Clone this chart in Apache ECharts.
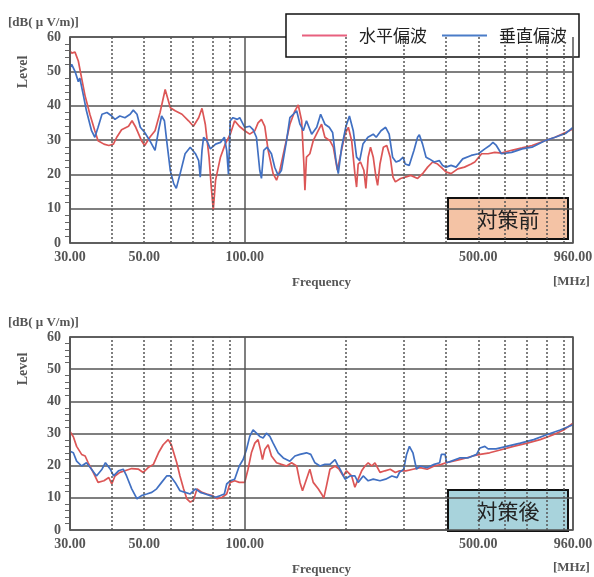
<!DOCTYPE html>
<html>
<head>
<meta charset="utf-8">
<script src="https://cdn.jsdelivr.net/npm/echarts@6/dist/echarts.min.js"></script>
<style>
  html, body { margin: 0; padding: 0; background: #fff; }
  #chart { width: 594px; height: 577px; }
</style>
</head>
<body>
<div id="chart"></div>
<script>
// 対策前 水平偏波
const beforeFreqH = [30, 30.35, 31.05, 31.77, 32.5, 33.26, 34.4, 35.6, 36.4, 37.9, 39.2, 40.46, 41.4, 42.8, 44.9, 46.0, 47.2, 49.1, 50.2, 52.0, 53.9, 55.8, 57.8, 59.9, 61.9, 64.9, 67.9, 70.2, 72.8, 74.5, 76.2, 78.2, 79.4, 80.5, 81.8, 84.6, 87.4, 90.5, 93.3, 96.3,
  100, 103.5, 107.2, 109.6, 112.2, 114.8, 117.5, 121.6, 124.5, 127.4, 131.8, 136.5, 141.3, 144.6, 148, 150.3, 151.4, 153, 156.6, 160.3, 165.9, 169.8, 173.7, 179.9, 184.1, 189.3, 192.9, 199.5,
  204.2, 208.9, 213.6, 216.1, 218.5, 222, 227.2, 230.4, 234.1, 237.9, 242.4, 247, 249.8, 253.9, 259.9, 266.1, 272.5, 277.7, 282.3, 292.6,
  302, 314, 329, 340.5, 352.6, 365, 377.7, 386.7, 400, 414.4, 434, 454.5, 476, 488, 511.5, 535, 560, 586, 629, 676, 723.8, 791, 848.5, 911.7, 960];
const beforeLevelH = [56, 55.3, 55.6, 53, 48, 43, 37.5, 32.7, 29.8, 28.8, 28.4, 28.8, 30.8, 33, 34, 35.6, 33.7, 29.8, 28.4, 30.8, 32.7, 38, 44.7, 39.4, 38.5, 37.5, 35.6, 34, 36.5, 39.2, 34.6, 25, 16.3, 9.6, 18.3, 25, 28.8, 31.7, 35.6, 34,
  32.7, 31.7, 32.7, 35, 36, 34, 27, 20.2, 18.3, 21.2, 27.9, 34.6, 38.5, 40.2, 35.6, 23, 15.4, 25, 26, 29.8, 32.7, 34.6, 30.8, 29.8, 27.9, 21.2, 25, 31.7,
  33.7, 29.8, 20.2, 16.3, 23, 23.6, 21.2, 15.9, 25, 27.9, 25, 19.2, 16.8, 23, 27.9, 28.4, 25, 19.2, 17.8, 18.8,
  19.2, 19.7, 18.8, 20.2, 22.1, 23.6, 23, 22.1, 20.7, 20.2, 21.6, 22.1, 23, 23.6, 26, 26, 26.4, 26.2, 27, 27.7, 28.4, 29.8, 30.8, 32.2, 33.2];

// 対策前 垂直偏波
const beforeFreqV = [30, 30.35, 31.05, 31.77, 32.1, 32.9, 33.6, 34.8, 35.6, 36.4, 37.4, 38.7, 40, 40.9, 42.3, 43.8, 45.4, 46.4, 47.6, 48.7, 50.2, 52, 53.9, 55.2, 56.4, 57.5, 58.4, 59.9, 61.3, 62.4, 64, 66.3, 68.7, 71.2, 72.8, 73.6, 74.5, 75.3, 77, 78.9, 81.8, 84.6, 86.9, 88.3, 89.4, 90.5, 92.2, 95,
  96.6, 100, 103.5, 105.9, 108.4, 110.9, 112.2, 114, 116.7, 120.2, 123, 125.9, 128.8, 133.4, 136.5, 139.7, 143, 146.3, 149.7, 153, 158.6, 164.2, 168.7, 173.7, 179, 183.2, 187.5, 190.5, 195, 200.9, 205.7, 211.2, 216.1, 220.8, 225.8, 233.6, 242.4, 247.4, 255.7, 264, 270.5, 277, 283.5, 290.5, 298,
  302, 310.5, 321, 329, 333, 340.5, 348.8, 356.7, 369, 382, 391, 400, 414.4, 429, 449, 476, 500, 523, 541, 553, 566, 586, 629, 676, 723.8, 791, 848.5, 911.7, 960];
const beforeLevelV = [51, 52, 50, 47, 48, 43, 38.5, 32.7, 30.8, 33.7, 37.5, 38, 37, 36, 37, 36.5, 37.5, 38.7, 37.5, 33.7, 32.2, 29.8, 27, 32.7, 37, 35.6, 29.8, 21, 17.3, 15.9, 20, 26, 27.9, 26, 24, 19.2, 27, 30.8, 29.8, 27.4, 28.8, 29.3, 30.8, 27, 20, 35.6, 36.5, 36,
  36.5, 33.7, 34, 33, 30.8, 21.2, 18.8, 27, 27.9, 26, 22, 19.7, 21.2, 29.8, 36.5, 37.5, 38.5, 34.6, 32.7, 35.6, 31.7, 33.7, 37.5, 34.6, 33.7, 32.2, 24, 20.2, 27.9, 34, 37, 32.7, 25, 24, 28.8, 30.8, 31.7, 30.8, 32.7, 33.7, 31.7, 25, 23.6, 24, 25,
  23, 22.6, 27, 30.8, 31.5, 28.8, 25, 24.5, 23.6, 24, 22.6, 22.1, 22.6, 22.1, 24.5, 25.5, 26, 27.4, 28.4, 29.3, 28.4, 26, 26.4, 27.4, 27.9, 29.8, 30.8, 31.9, 33.7];

// 対策後 水平偏波
const afterFreqH = [30, 30.7, 31.4, 32.5, 33.3, 34.0, 35.2, 36.4, 37.9, 39.2, 40, 40.9, 42.3, 43.8, 45.9, 48.1, 49.7, 51.4, 53.3, 55.2, 57, 59, 60.3, 62.6, 64, 65.6, 67.1, 68.7, 70.2, 72, 74.5, 77, 80, 82.7, 85.6, 88.3, 90.5, 93.3, 96.3,
  100, 102.3, 104.7, 107.2, 109.6, 111.4, 113, 114.8, 117.5, 120.2, 124.5, 128.8, 133.4, 138.1, 143, 146.3, 148.9, 153, 156.6, 160.3, 165.9, 169.8, 172.4, 175.7, 179.9, 186.3, 191.6, 197.2,
  201.6, 208.9, 213.6, 218.5, 223.8, 229, 234.1, 239.7, 245.3, 253.9, 262.8, 272.5, 282.3, 290.5,
  303.5, 318.6, 334.7, 351.5, 369, 387.6, 400, 420, 439.5, 460, 481.4, 505.7, 540.6, 577.5, 637, 700, 765.5, 838.6, 900, 960];
const afterLevelH = [30.6, 29, 26, 23.5, 23, 20.9, 17.9, 14.8, 15.3, 16.3, 14.3, 16.8, 17.9, 18.4, 19.1, 18.9, 17.9, 19.4, 20.4, 24, 26.5, 28.1, 26.5, 20.9, 16.8, 12.8, 9.7, 8.7, 9.2, 12.8, 11.7, 11.2, 10.7, 9.7, 10.2, 11.2, 14.8, 15.3, 14.8,
  14.8, 18.9, 24, 27, 28.1, 25, 21.9, 25, 26.5, 23, 20.9, 20.4, 19.9, 20.9, 19.9, 14.8, 12.2, 15.8, 18.9, 14.8, 12.8, 11.2, 9.9, 13.8, 18.9, 19.9, 18.9, 16.8,
  18.4, 16.8, 13.3, 15.8, 18.4, 19.9, 20.9, 19.9, 20.9, 17.9, 18.4, 18.9, 17.9, 18.4,
  18.4, 18.9, 19.4, 18.9, 19.9, 20.4, 20.9, 21.4, 21.9, 22.4, 23, 23.5, 24, 24.8, 26, 27, 28.1, 29.6, 31.1, 33.2];

// 対策後 垂直偏波
const afterFreqV = [30, 30.7, 31.4, 32.5, 33.6, 34.8, 36, 37.4, 38.3, 39.6, 40.5, 41.9, 43.3, 44.3, 45.9, 47.6, 49.1, 50.9, 52.7, 54.5, 56.4, 58.4, 59.9, 61.9, 64, 66.3, 68.7, 71.2, 73.6, 76.2, 78.9, 81.8, 84.6, 86.9, 88.3, 90.5, 93.3, 96.3,
  99, 101.2, 103.5, 105.9, 108.4, 110.9, 113.5, 116.1, 118.9, 121.6, 125.9, 130.4, 136.5, 141.3, 146.3, 153, 157.6, 162.2, 167.9, 173.7, 179.9, 186.3, 189.3, 192.9, 199.5,
  206.5, 213.6, 218.5, 226.2, 234.1, 242.4, 253.9, 264, 275.6, 285.6, 290.5, 299,
  305, 311, 318.6, 326.6, 334.7, 351.5, 369, 383, 387.6, 392.3, 397.8, 401.8, 415.5, 439.5, 465, 494, 505.7, 523, 534.7, 565, 607, 668, 732, 800, 879, 960];
const afterLevelV = [24.5, 24, 21.4, 19.9, 20.9, 18.9, 16.8, 18.9, 20.9, 18.9, 16.8, 18.4, 18.9, 16.8, 12.8, 9.7, 10.7, 11.2, 11.7, 12.8, 14.8, 16.8, 16.8, 14.8, 12.2, 11.7, 11.2, 12.8, 11.7, 11.2, 10.7, 10.2, 10.7, 11.2, 14.3, 15.3, 15.8, 19.9,
  22, 25, 29.1, 31.1, 30.1, 29.1, 28.6, 30.1, 29.1, 27, 24, 22.4, 21.4, 23, 23.5, 24, 23.5, 20.9, 19.9, 20.4, 20.4, 21.9, 20.4, 18.9, 15.8,
  16.8, 16.8, 14.8, 16.8, 15.3, 15.8, 15.3, 15.8, 16.8, 16.3, 17.9, 18.9,
  23.5, 26, 24, 18.9, 19.9, 19.4, 20.4, 20.9, 23.5, 24, 23.5, 20.9, 21.4, 22.4, 22.4, 23.5, 25.5, 26, 25.2, 25.2, 26, 27, 28.1, 29.6, 31.1, 32.7];

// 目盛り
const gridFreqs = [30, 40, 50, 60, 70, 80, 90, 100, 200, 300, 400, 500, 600, 700, 800, 900, 960];
const solidFreqs = [30, 100, 960];
const labelFreqs = [30, 50, 100, 500, 960];
const labelTexts = ['30.00', '50.00', '100.00', '500.00', '960.00'];
const seriesNames = ['水平偏波', '垂直偏波'];

const RED = '#dc5656';
const BLUE = '#4170c2';
const GRIDC = '#555';
const serif = 'Liberation Serif';

function zip(a, b) {
  return a.map((f, i) => [f, b[i]]);
}

// 縦の補助線（markLine）
function vLines() {
  return gridFreqs.map(f => {
    const i = labelFreqs.indexOf(f);
    return {
      xAxis: f,
      lineStyle: { type: solidFreqs.indexOf(f) >= 0 ? 'solid' : [2, 2] },
      label: { show: i >= 0, formatter: i >= 0 ? labelTexts[i] : '' }
    };
  });
}

function axesFor(idx) {
  const x = {
    type: 'log', logBase: 10, gridIndex: idx, min: 30, max: 960,
    name: 'Frequency', nameLocation: 'middle', nameGap: 33,
    nameTextStyle: { fontFamily: serif, fontWeight: 'bold', fontSize: 13, color: '#555' },
    axisLine: { show: false }, axisTick: { show: false },
    axisLabel: { show: false }, splitLine: { show: false }, minorSplitLine: { show: false }
  };
  const y = {
    type: 'value', gridIndex: idx, min: 0, max: 60, interval: 10,
    axisLine: { show: true, lineStyle: { color: GRIDC, width: 1.5 } },
    axisTick: { show: false },
    minorTick: { show: true, splitNumber: 5, length: 5, lineStyle: { color: '#666' } },
    axisLabel: { fontFamily: serif, fontWeight: 'bold', fontSize: 14, color: '#555', margin: 9 },
    splitLine: { show: true, lineStyle: { color: GRIDC, width: 1.5 } }
  };
  return [x, y];
}

const ax0 = axesFor(0), ax1 = axesFor(1);

function gridSeries(idx) {
  return {
    name: 'grid' + idx, type: 'line', xAxisIndex: idx, yAxisIndex: idx, data: [], z: 1,
    markLine: {
      silent: true, symbol: ['none', 'none'], animation: false,
      lineStyle: { color: GRIDC, width: 1.5 },
      label: { position: 'start', distance: 7, fontFamily: serif, fontWeight: 'bold', fontSize: 14, color: '#555' },
      emphasis: { disabled: true },
      data: vLines()
    }
  };
}

function dataSeries(name, idx, freqs, levels, color) {
  return {
    name: name, type: 'line', xAxisIndex: idx, yAxisIndex: idx, z: 3,
    showSymbol: false, symbol: 'none', animation: false,
    lineStyle: { color: color, width: 1.7 }, itemStyle: { color: color },
    data: zip(freqs, levels)
  };
}

function labelBox(x, y, text, fill) {
  return {
    type: 'group', left: x, top: y, z: 100,
    children: [
      { type: 'rect', shape: { x: 0, y: 0, width: 120, height: 41 }, style: { fill: fill, stroke: '#111', lineWidth: 2 } },
      { type: 'text', x: 60, y: 21, style: { text: text, fill: '#222', font: '21px "Noto Sans CJK JP"', textAlign: 'center', textVerticalAlign: 'middle' } }
    ]
  };
}

// 軸まわりの文字（上段・下段）
function sideTexts(dyName, dyLevel, dyUnit) {
  return [
    { type: 'text', left: 8, top: 16 + dyName, style: { text: '[dB( μ V/m)]', fill: '#555', font: 'bold 13px "Liberation Serif"' } },
    { type: 'text', x: 23, y: 72 + dyLevel, rotation: Math.PI / 2, style: { text: 'Level', fill: '#555', font: 'bold 14px "Liberation Serif"', textAlign: 'center', textVerticalAlign: 'middle' } },
    { type: 'text', left: 553, top: 275 + dyUnit, style: { text: '[MHz]', fill: '#555', font: 'bold 13px "Liberation Serif"' } }
  ];
}

const chart = echarts.init(document.getElementById('chart'));
chart.setOption({
  backgroundColor: '#fff',
  animation: false,
  legend: {
    left: 286, top: 14,
    padding: [13, 12, 13, 16],
    itemWidth: 45, itemHeight: 14, itemGap: 15,
    borderColor: '#111', borderWidth: 1.5, backgroundColor: '#fff',
    textStyle: { fontFamily: 'Noto Sans CJK JP', fontSize: 17, color: '#222', padding: [0, 0, 0, 7] },
    data: [
      { name: seriesNames[0], icon: 'path://M0,6 L45,6 L45,8 L0,8 Z', itemStyle: { color: '#e8607e' } },
      { name: seriesNames[1], icon: 'path://M0,6 L45,6 L45,8 L0,8 Z', itemStyle: { color: '#4a7cc8' } }
    ]
  },
  grid: [
    { left: 70, right: 21, top: 37, height: 206, show: true, borderColor: GRIDC, borderWidth: 1.5 },
    { left: 70, right: 21, top: 337, height: 196, show: true, borderColor: GRIDC, borderWidth: 1.5 }
  ],
  xAxis: [ax0[0], ax1[0]],
  yAxis: [ax0[1], ax1[1]],
  series: [
    gridSeries(0),
    gridSeries(1),
    dataSeries(seriesNames[0], 0, beforeFreqH, beforeLevelH, RED),
    dataSeries(seriesNames[1], 0, beforeFreqV, beforeLevelV, BLUE),
    dataSeries(seriesNames[0], 1, afterFreqH, afterLevelH, RED),
    dataSeries(seriesNames[1], 1, afterFreqV, afterLevelV, BLUE)
  ],
  graphic: sideTexts(0, 0, 0).concat(sideTexts(300, 297, 286), [
    labelBox(447, 197, '対策前', '#f4c3a5'),
    labelBox(447, 489, '対策後', '#a8d3dc')
  ])
});
</script>
</body>
</html>
